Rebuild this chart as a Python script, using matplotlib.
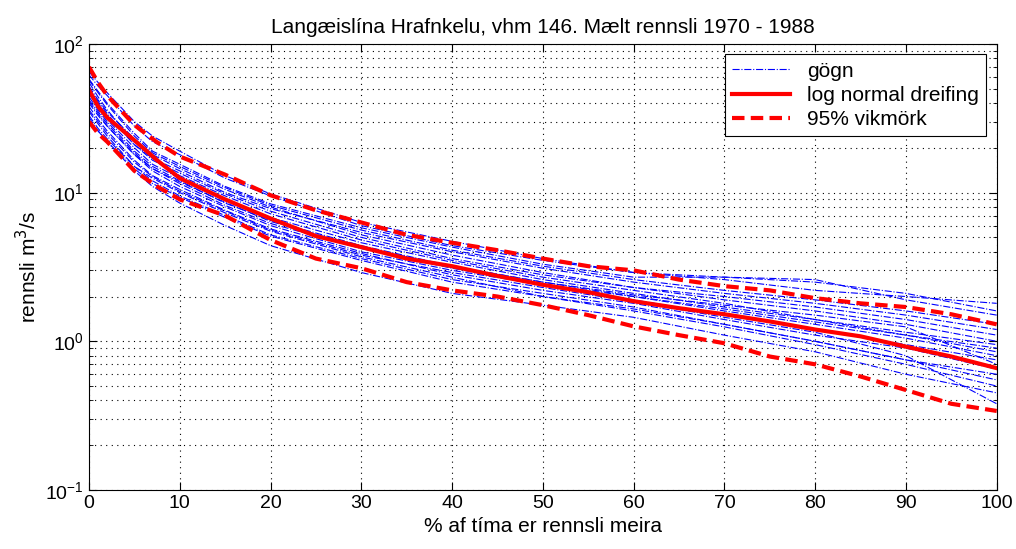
import matplotlib
matplotlib.use("Agg")
import matplotlib.pyplot as plt
from matplotlib.ticker import LogLocator, NullFormatter

plt.rcParams['font.family'] = ['Liberation Sans', 'DejaVu Sans']

# % af tíma (x) fyrir öll gögn
pct = [0, 1, 2, 5, 7, 10, 15, 20, 30, 40, 50, 60, 70, 80, 90, 100]

# rennsli hvers árs (m3/s), lesið af myndinni
years = list(range(1970, 1989))
gogn = [
    [62, 52, 45, 28, 22, 18, 12.5, 9.5, 6.0, 4.4, 3.5, 2.9, 2.6, 2.2, 2.0, 1.8],
    [40, 33, 28, 18, 14, 11, 8.0, 6.0, 4.0, 3.0, 2.4, 1.9, 1.5, 1.2, 0.95, 0.75],
    [55, 44, 36, 22, 17, 13, 9.5, 7.2, 4.8, 3.5, 2.7, 2.2, 1.8, 1.4, 1.1, 0.9],
    [35, 29, 24, 15, 12, 9.5, 7.0, 5.2, 3.6, 2.6, 2.1, 1.7, 1.3, 1.0, 0.75, 0.55],
    [48, 40, 33, 21, 17, 14, 10, 7.8, 5.4, 4.0, 3.1, 2.5, 2.1, 1.8, 1.5, 1.2],
    [30, 26, 22, 14, 11, 8.5, 6.0, 4.4, 2.9, 2.1, 1.75, 1.45, 1.1, 0.85, 0.6, 0.45],
    [58, 48, 40, 25, 19, 15.5, 11, 8.4, 5.8, 4.3, 3.3, 2.7, 2.7, 2.5, 2.1, 1.6],
    [44, 36, 30, 19, 15, 12, 8.5, 6.5, 4.4, 3.2, 2.5, 2.0, 1.6, 1.3, 1.05, 0.8],
    [38, 31, 26, 16.5, 13, 10.5, 7.6, 5.7, 3.9, 2.8, 2.2, 1.8, 1.4, 1.1, 0.9, 0.65],
    [52, 42, 35, 23, 18, 14.5, 10.5, 8.0, 5.2, 3.8, 2.9, 2.3, 1.9, 1.6, 1.3, 1.0],
    [33, 27, 23, 15, 12.5, 10, 7.3, 5.5, 3.7, 2.7, 2.0, 1.6, 1.25, 0.95, 0.7, 0.5],
    [65, 55, 47, 30, 24, 19, 13, 9.8, 6.3, 4.7, 3.6, 2.9, 2.7, 2.6, 1.9, 1.5],
    [42, 35, 29, 18.5, 14.5, 11.5, 8.2, 6.2, 4.2, 3.1, 2.4, 2.0, 1.65, 1.35, 1.1, 0.85],
    [50, 41, 34, 21, 16.5, 13.5, 9.8, 7.5, 5.0, 3.6, 2.8, 2.3, 2.0, 1.7, 1.4, 1.1],
    [36, 30, 25, 16, 12.8, 10.2, 7.5, 5.6, 3.8, 2.9, 2.3, 1.85, 1.45, 1.15, 0.8, 0.38],
    [46, 38, 31, 20, 15.5, 12.5, 9.0, 6.8, 4.6, 3.4, 2.6, 2.1, 1.7, 1.4, 1.15, 0.95],
    [57, 47, 39, 24, 18.5, 15, 10.8, 8.2, 5.6, 4.1, 3.2, 2.6, 2.2, 1.9, 1.6, 1.3],
    [32, 26, 22, 14.5, 11.5, 9.3, 6.8, 5.1, 3.5, 2.5, 2.0, 1.65, 1.3, 1.0, 0.75, 0.6],
    [41, 34, 28, 18, 14.5, 11.8, 8.6, 6.4, 4.3, 3.2, 2.5, 2.05, 1.75, 1.5, 1.25, 0.7],
]

# log normal dreifing og 95% vikmörk
pct_fit = [0, 1, 2, 5, 7.5, 10, 15, 20, 25, 30, 35, 40, 45, 50, 55, 60, 65, 70, 75, 80,
           85, 90, 95, 100]
median = [49, 38, 32, 22.5, 16.5, 12.5, 9.0, 6.7, 5.1, 4.3, 3.6, 3.2, 2.75, 2.4, 2.14,
          1.86, 1.67, 1.52, 1.36, 1.2, 1.08, 0.92, 0.79, 0.66]
upper = [70, 55, 45, 28.5, 21.8, 17.5, 13.2, 9.6, 7.6, 6.3, 5.2, 4.6, 4.1, 3.6, 3.2,
         3.0, 2.6, 2.35, 2.2, 1.95, 1.8, 1.7, 1.52, 1.3]
lower = [30, 25, 22, 14, 11, 9.0, 7.0, 4.8, 3.6, 3.1, 2.5, 2.2, 2.0, 1.75, 1.5, 1.26,
         1.1, 0.97, 0.79, 0.70, 0.58, 0.47, 0.38, 0.34]

fig = plt.figure(figsize=(10.16, 5.49), dpi=100)
ax = fig.add_axes([0.0876, 0.1075, 0.8934, 0.8125])

for i, q in enumerate(gogn):
    ax.plot(pct, q, color='blue', lw=0.8, ls='-.',
            label='gögn' if i == 0 else None)
ax.plot(pct_fit, median, color='red', lw=3, label='log normal dreifing')
ax.plot(pct_fit, upper, color='red', lw=3, ls=(0, (3, 1.5)), label='95% vikmörk')
ax.plot(pct_fit, lower, color='red', lw=3, ls=(0, (3, 1.5)))

ax.set_yscale('log')
ax.set_xlim(0, 100)
ax.set_ylim(0.1, 100)
ax.set_xticks(range(0, 101, 10))
ax.yaxis.set_minor_locator(LogLocator(base=10, subs=range(2, 10)))
ax.yaxis.set_minor_formatter(NullFormatter())

grid_style = dict(ls=(0, (1, 4)), color='black', lw=0.8)
ax.grid(True, which='major', **grid_style)
ax.grid(True, which='minor', axis='y', **grid_style)
ax.tick_params(which='both', direction='in', top=True, right=True, labelsize=14)
ax.tick_params(which='major', length=6)
ax.tick_params(which='minor', length=3)

ax.set_title('Langæislína Hrafnkelu, vhm 146. Mælt rennsli 1970 - 1988', fontsize=15, pad=8)
ax.set_xlabel('% af tíma er rennsli meira', fontsize=15, labelpad=4)
ax.set_ylabel('rennsli m$^3$/s', fontsize=15)

leg = ax.legend(loc='upper right', fontsize=15, fancybox=False, framealpha=1,
                edgecolor='black', handlelength=2.8, borderaxespad=0.5,
                labelspacing=0.25, borderpad=0.35)
leg.get_frame().set_linewidth(0.8)

fig.savefig('out.png', dpi=100)
